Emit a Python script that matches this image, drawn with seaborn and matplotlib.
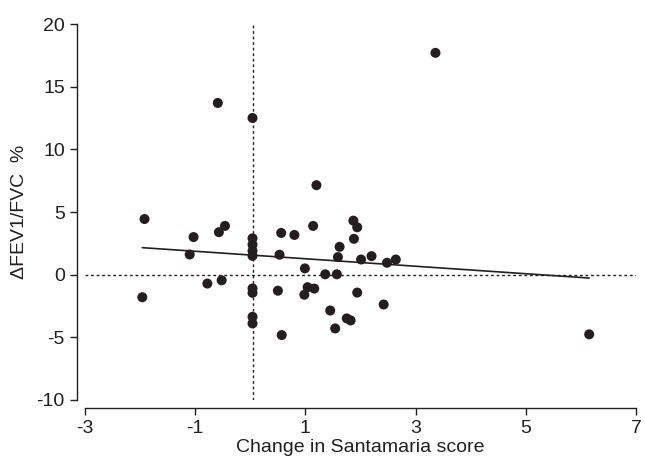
import matplotlib
matplotlib.use("Agg")
import matplotlib.pyplot as plt
import seaborn as sns
import pandas as pd

# Change in Santamaria score vs change in FEV1/FVC (%)
santamaria_change = [
    -1.96, -1.92, -1.10, -1.03, -0.78, -0.59, -0.57, -0.52, -0.46,
    0.04, 0.04, 0.04, 0.04, 0.04, 0.04, 0.04, 0.04, 0.04,
    0.50, 0.53, 0.56, 0.57, 0.80, 0.98, 0.99, 1.04, 1.14, 1.16, 1.20,
    1.36, 1.45, 1.54, 1.57, 1.59, 1.62, 1.75, 1.82, 1.87, 1.88, 1.94,
    1.94, 2.01, 2.20, 2.42, 2.48, 2.64, 3.36, 6.15,
]
fev_change = [
    -1.80, 4.44, 1.61, 3.00, -0.71, 13.7, 3.39, -0.45, 3.89,
    2.90, 2.40, 1.90, 1.50, 12.5, -1.10, -1.45, -3.36, -3.89,
    -1.28, 1.59, 3.33, -4.82, 3.17, -1.60, 0.50, -1.00, 3.89, -1.11, 7.14,
    0.03, -2.86, -4.29, 0.03, 1.40, 2.22, -3.49, -3.65, 4.31, 2.86, 3.78,
    -1.43, 1.21, 1.48, -2.38, 0.95, 1.21, 17.7, -4.76,
]

x_ticks = [-3, -1, 1, 3, 5, 7]
y_ticks = [-10, -5, 0, 5, 10, 15, 20]
zero_score = 0.04  # the dotted "no change" line sits on the x=0 column

df = pd.DataFrame({"score": santamaria_change, "fev": fev_change})

sns.set_style("ticks")
plt.rcParams["font.family"] = ["Liberation Sans Narrow", "Liberation Sans", "DejaVu Sans"]
plt.rcParams["axes.unicode_minus"] = False

fig = plt.figure(figsize=(6.45, 4.68), dpi=100)
ax = fig.add_axes([0.1318, 0.1453, 0.8543, 0.8034])

# reference lines
ax.axhline(0, color="#231f20", lw=1.0, ls=(0, (2, 2)), zorder=1)
ax.axvline(zero_score, color="#231f20", lw=1.0, ls=(0, (2, 2)), zorder=1)

sns.regplot(
    data=df, x="score", y="fev", ax=ax, ci=None, truncate=True,
    scatter_kws={"s": 52, "color": "#231f20", "edgecolor": "none", "alpha": 1, "zorder": 3},
    line_kws={"color": "#231f20", "lw": 1.2, "zorder": 2},
)

ax.set_xlim(-3, 7)
ax.set_ylim(-10, 20)
ax.set_xticks(x_ticks)
ax.set_yticks(y_ticks)
ax.tick_params(labelsize=14, length=5, width=1, colors="#231f20")
ax.set_xlabel("Change in Santamaria score", fontsize=14, color="#231f20", labelpad=1)
ax.set_ylabel("ΔFEV1/FVC  %", fontsize=14, color="#231f20", labelpad=6)
sns.despine(ax=ax, offset=6)
for s in ("left", "bottom"):
    ax.spines[s].set_color("#231f20")
    ax.spines[s].set_linewidth(1)

fig.savefig("out.png", dpi=100)
